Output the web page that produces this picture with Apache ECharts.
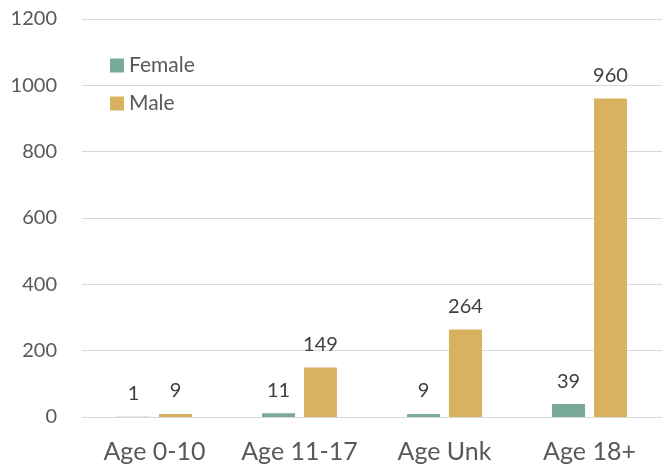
<!DOCTYPE html>
<html><head><meta charset="utf-8">
<script src="https://cdn.jsdelivr.net/npm/echarts@6/dist/echarts.min.js"></script>
<style>html,body{margin:0;padding:0;background:#fff}#c{width:662px;height:468px}</style>
</head><body><div id="c"></div>
<script>
const categories = ['Age 0-10', 'Age 11-17', 'Age Unk', 'Age 18+'];
const female = [1, 11, 9, 39];
const male = [9, 149, 264, 960];
const yTicks = [0, 200, 400, 600, 800, 1000, 1200];

const chart = echarts.init(document.getElementById('c'));
const font = 'Lato, "Liberation Sans", sans-serif';
const lbl = {show: true, position: 'top', distance: 13, color: '#404040', fontSize: 20, lineHeight: 20, fontFamily: font};
chart.setOption({
  animation: false,
  grid: {left: 82, right: 0, top: 19, bottom: 51},
  legend: {
    orient: 'vertical', left: 105, top: 50, itemWidth: 14, itemHeight: 14, itemGap: 17,
    icon: 'rect',
    textStyle: {color: '#595959', fontSize: 21, lineHeight: 20, fontFamily: font},
    data: ['Female', 'Male']
  },
  xAxis: {
    type: 'category', data: categories,
    axisLine: {show: false}, axisTick: {show: false},
    axisLabel: {color: '#595959', fontSize: 25, fontFamily: font, margin: 22, interval: 0}
  },
  yAxis: {
    type: 'value', min: yTicks[0], max: yTicks[yTicks.length - 1], interval: 200,
    axisLine: {show: false}, axisTick: {show: false},
    splitLine: {lineStyle: {color: '#d9d9d9', width: 1}},
    axisLabel: {color: '#595959', fontSize: 20, fontFamily: font, margin: 25,
      formatter: function (v) { return String(v); }}
  },
  series: [
    {name: 'Female', type: 'bar', data: female, barWidth: 33, barGap: '27%',
     itemStyle: {color: '#78a99a'}, label: lbl},
    {name: 'Male', type: 'bar', data: male, barWidth: 33,
     itemStyle: {color: '#d8b25e'}, label: lbl}
  ]
});
</script></body></html>
